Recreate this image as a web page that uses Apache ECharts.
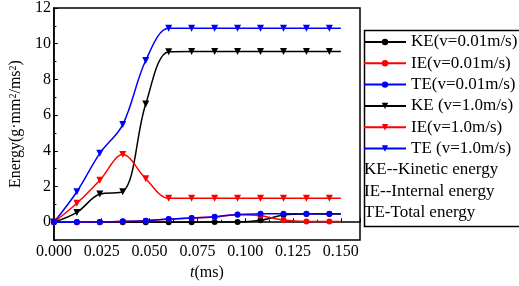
<!DOCTYPE html>
<html>
<head>
<meta charset="utf-8">
<script src="https://cdn.jsdelivr.net/npm/echarts@6/dist/echarts.min.js"></script>
<style>
html,body{margin:0;padding:0;background:#fff;}
#main{width:519px;height:286px;}
</style>
</head>
<body>
<div id="main"></div>
<script>
// time points (ms); last point 0.150 has no marker
var times = [0, 0.012, 0.024, 0.036, 0.048, 0.060, 0.072, 0.084, 0.096, 0.108, 0.120, 0.132, 0.144, 0.150];

var ke001 = [0, 0, 0, 0, 0, 0, 0, 0.02, 0.02, 0.11, 0.40, 0.46, 0.46, 0.46];
var ie001 = [0, 0, 0.02, 0.04, 0.09, 0.17, 0.24, 0.30, 0.42, 0.36, 0.12, 0.04, 0.04, 0.04];
var te001 = [0, 0.01, 0.02, 0.05, 0.09, 0.18, 0.24, 0.31, 0.44, 0.47, 0.48, 0.48, 0.48, 0.48];
var ke10 = [0, 0.55, 1.58, 1.71, 6.62, 9.55, 9.57, 9.57, 9.57, 9.57, 9.57, 9.57, 9.57, 9.57];
var ie10 = [0, 1.06, 2.35, 3.79, 2.44, 1.34, 1.34, 1.34, 1.34, 1.34, 1.34, 1.34, 1.34, 1.34];
var te10 = [0, 1.71, 3.86, 5.47, 9.06, 10.86, 10.86, 10.86, 10.86, 10.86, 10.86, 10.86, 10.86, 10.86];

var yMajor = [0, 2, 4, 6, 8, 10, 12];
var yMinor = [-1, 1, 3, 5, 7, 9, 11];

var notes = ['KE--Kinetic energy', 'IE--Internal energy', 'TE-Total energy'];

var serif = '"Liberation Serif","Times New Roman",serif';

function pts(vals) {
    return vals.map(function (v, i) {
        if (i === vals.length - 1) {
            return { value: [times[i], v], symbol: 'none' };
        }
        return [times[i], v];
    });
}

function mk(name, vals, color, sym, size) {
    return {
        name: name, type: 'line',
        data: pts(vals),
        smooth: 0.35,
        symbol: sym, symbolSize: size,
        symbolRotate: sym === 'triangle' ? 180 : 0,
        showAllSymbol: true,
        lineStyle: { color: color, width: 1.5 },
        itemStyle: { color: color },
        animation: false
    };
}

var chart = echarts.init(document.getElementById('main'));
var option = {
    animation: false,
    grid: {
        left: 43, right: 159, top: 8, bottom: 42,
        show: true, borderColor: '#000', borderWidth: 1.5
    },
    legend: {
        orient: 'vertical',
        left: 363, top: 33,
        padding: 0,
        itemWidth: 42, itemHeight: 8, itemGap: 3.3,
        textStyle: { fontFamily: serif, fontSize: 17, color: '#000', lineHeight: 18 },
        data: ['KE(v=0.01m/s)', 'IE(v=0.01m/s)', 'TE(v=0.01m/s)', 'KE (v=1.0m/s)', 'IE(v=1.0m/s)', 'TE (v=1.0m/s)']
    },
    xAxis: {
        type: 'value',
        min: 0, max: 0.16, interval: 0.025,
        name: '{i|t}(ms)',
        nameLocation: 'middle', nameGap: 24,
        nameTextStyle: {
            fontFamily: serif, fontSize: 16, color: '#000',
            rich: { i: { fontFamily: serif, fontSize: 16, fontStyle: 'italic', color: '#000' } }
        },
        axisLine: { lineStyle: { color: '#000', width: 1.5 } },
        axisTick: { inside: true, length: 4, lineStyle: { color: '#000' } },
        minorTick: { show: true, splitNumber: 2, length: 2.5, lineStyle: { color: '#000' } },
        axisLabel: {
            showMaxLabel: false, margin: 4,
            fontFamily: serif, fontSize: 16, color: '#000',
            formatter: function (v) { return v.toFixed(3); }
        },
        splitLine: { show: false }
    },
    yAxis: [{
        type: 'value',
        min: -1, max: 12,
        name: 'Energy(g·mm{s|2}/ms{s|2})',
        nameLocation: 'middle', nameGap: 22,
        nameTextStyle: {
            fontFamily: serif, fontSize: 16, color: '#000',
            rich: { s: { fontFamily: serif, fontSize: 10, color: '#000', verticalAlign: 'top', padding: [0, 0, 6, 0] } }
        },
        axisLine: { lineStyle: { color: '#000', width: 1.5 } },
        axisTick: { inside: true, length: 4, lineStyle: { color: '#000' }, customValues: yMajor },
        axisLabel: {
            margin: 3, customValues: yMajor,
            fontFamily: serif, fontSize: 16, color: '#000'
        },
        splitLine: { show: false }
    }, {
        type: 'value',
        min: -1, max: 12,
        position: 'left',
        axisLine: { show: false },
        axisTick: { inside: true, length: 2.5, lineStyle: { color: '#000' }, customValues: yMinor },
        axisLabel: { show: false },
        splitLine: { show: false }
    }],
    graphic: [
        {
            type: 'rect', left: 362, top: 28,
            shape: { width: 156, height: 196 },
            style: { fill: 'none', stroke: '#000', lineWidth: 1.5 }
        },
        { type: 'text', left: 364, top: 161, style: { text: notes[0], font: '17px ' + serif, fill: '#000' } },
        { type: 'text', left: 364, top: 183, style: { text: notes[1], font: '17px ' + serif, fill: '#000' } },
        { type: 'text', left: 364, top: 204, style: { text: notes[2], font: '17px ' + serif, fill: '#000' } }
    ],
    series: [
        mk('KE(v=0.01m/s)', ke001, '#000000', 'circle', 6),
        mk('IE(v=0.01m/s)', ie001, '#ff0000', 'circle', 6),
        mk('TE(v=0.01m/s)', te001, '#0000ff', 'circle', 6),
        mk('KE (v=1.0m/s)', ke10, '#000000', 'triangle', 7),
        mk('IE(v=1.0m/s)', ie10, '#ff0000', 'triangle', 7),
        mk('TE (v=1.0m/s)', te10, '#0000ff', 'triangle', 7)
    ]
};
chart.setOption(option);
</script>
</body>
</html>
